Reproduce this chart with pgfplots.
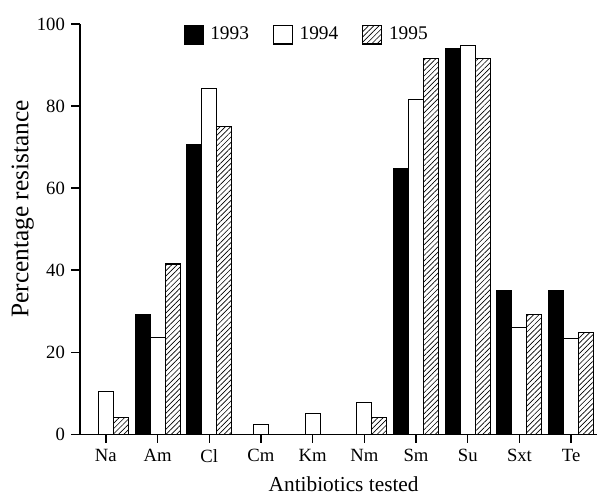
\documentclass[border=0pt]{standalone}
\usepackage{fontspec}
\setmainfont{Liberation Serif}
\usepackage{pgfplots}
\pgfplotsset{compat=1.18}
\usetikzlibrary{patterns.meta}

\begin{document}
\fontsize{14}{16}\selectfont
\begin{tikzpicture}
\begin{axis}[
    scale only axis,
    width=387.75pt,
    height=307.7pt,
    ybar=0pt,
    bar width=11.25pt,
    xmin=-0.5, xmax=9.5,
    ymin=0, ymax=100,
    axis lines*=left,
    axis line style={line width=1pt},
    tick style={line width=1pt, black},
    tick align=outside,
    major tick length=6.5pt,
    xtick={0,...,9},
    xticklabels={Na,Am,Cl,Cm,Km,Nm,Sm,Su,Sxt,Te},
    ytick={0,20,...,100},
    /pgf/number format/assume math mode=true,
    xlabel={Antibiotics tested},
    ylabel={Percentage resistance},
    xlabel style={at={(axis description cs:0.51,-0.139)}, anchor=base, font=\fontsize{16}{18}\selectfont},
    ylabel style={at={(axis description cs:-0.111,0.549)}, anchor=center, font=\fontsize{19}{21}\selectfont},
    legend columns=3,
    legend style={draw=none, fill=none, at={(0.439,0.974)}, anchor=center,
        font=\fontsize{14.5}{16}\selectfont,
        /tikz/every odd column/.append style={column sep=3pt},
        /tikz/every even column/.append style={column sep=16pt}},
    legend image code/.code={\draw[#1] (0pt,-7pt) rectangle (14.25pt,7pt);},
    every axis plot/.append style={draw=black, line width=0.8pt},
]
\addplot[fill=black] coordinates {
    (1,29.2) (2,70.5) (6,64.7) (7,94.1) (8,35.1) (9,35.1)
};
\addplot[fill=white] coordinates {
    (0,10.4) (1,23.5) (2,84.2) (3,2.4) (4,5.1) (5,7.8) (6,81.6) (7,94.7) (8,26.1) (9,23.4)
};
\addplot[fill=white, postaction={pattern={Lines[angle=45, distance=2.8pt, line width=0.5pt]}}] coordinates {
    (0,4.0) (1,41.5) (2,75.0) (5,4.1) (6,91.7) (7,91.6) (8,29.1) (9,24.8)
};
\legend{1993,1994,1995}
\end{axis}
\pgfresetboundingbox
\path ([shift={(-60pt,-49.3pt)}]current axis.south west) rectangle ([shift={(0.75pt,18pt)}]current axis.north east);
\end{tikzpicture}
\end{document}
